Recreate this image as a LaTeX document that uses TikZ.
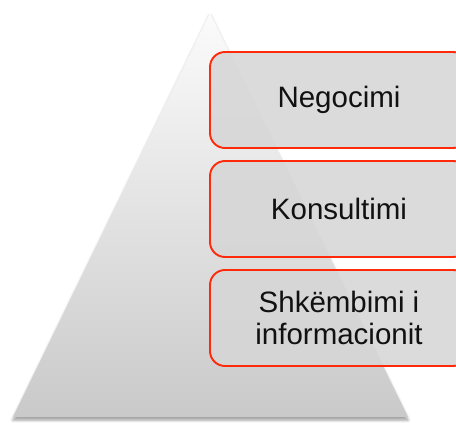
\documentclass[tikz,border=0pt]{standalone}
\usepackage{fontspec}
\setmainfont{Liberation Sans}
\usetikzlibrary{shadows.blur}
\definecolor{boxred}{HTML}{FF2A0A}
\definecolor{boxfill}{HTML}{D6D6D6}
\definecolor{txt}{HTML}{111111}
\tikzset{
  levelbox/.style={draw=boxred, line width=1.9pt, rounded corners=15pt,
    fill=boxfill, fill opacity=0.88, text opacity=1, text=txt,
    minimum width=258pt, minimum height=96pt, inner sep=0pt,
    align=center, font=\fontsize{29.5}{32}\selectfont}
}
\begin{document}
\begin{tikzpicture}[x=1pt,y=-1pt]
\useasboundingbox (0,0) rectangle (456,423);
\path[blur shadow={shadow xshift=0pt, shadow yshift=-3pt, shadow blur radius=3pt, shadow opacity=40},
  top color=white!97!gray, bottom color=black!21]
  (210,13) -- (408,417) -- (13,417) -- cycle;
\node[levelbox] (n1) at (339,100) {Negocimi};
\node[levelbox] (n2) at (339,209) {Konsultimi};
\node[levelbox] (n3) at (339,318) {Shkëmbimi i\\informacionit};
\end{tikzpicture}
\end{document}
